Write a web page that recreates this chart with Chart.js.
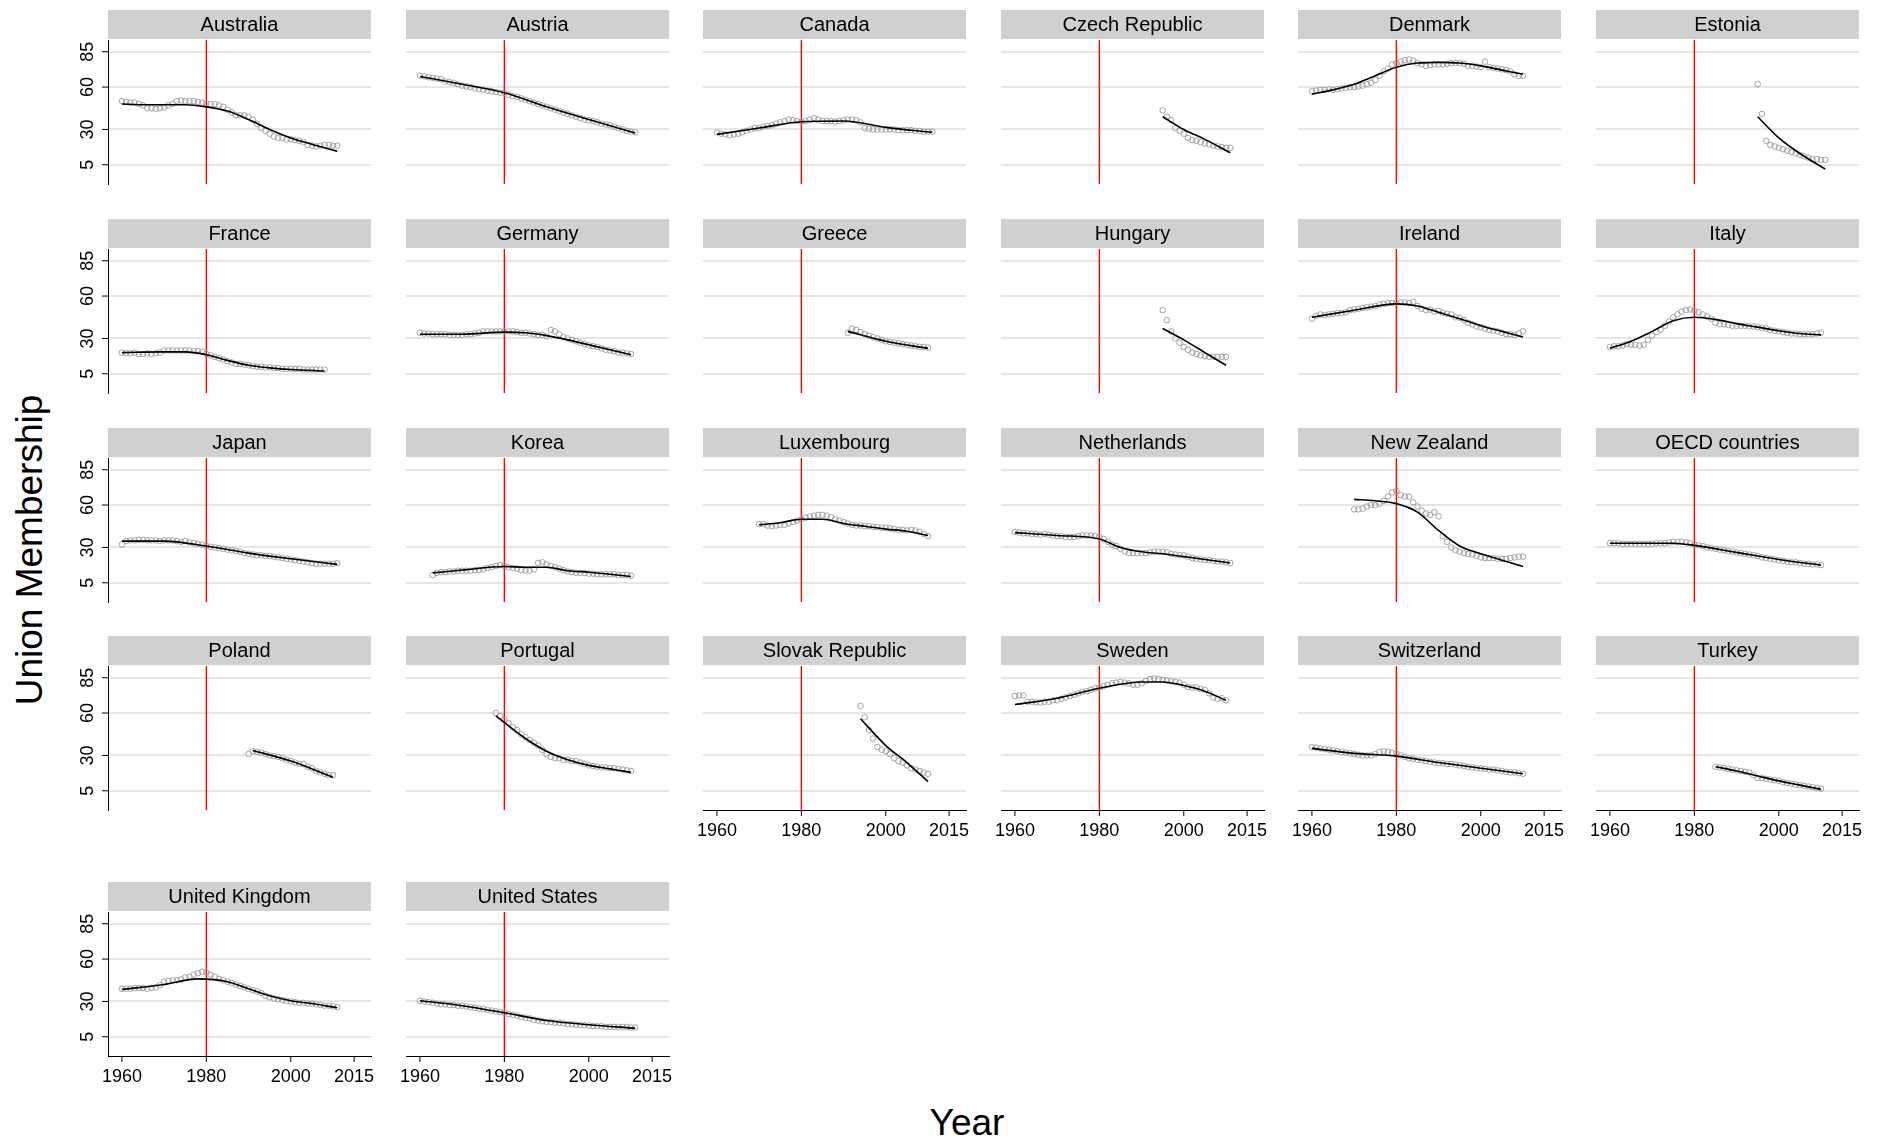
<!DOCTYPE html>
<html>
<head>
<meta charset="utf-8">
<script src="https://cdn.jsdelivr.net/npm/chart.js@4.4.1/dist/chart.umd.min.js"></script>
<style>
  body { margin: 0; background: #fff; width: 1885px; height: 1139px; position: relative; overflow: hidden; font-family: "Liberation Sans", Arial, sans-serif; }
  canvas { position: absolute; }
  .ytitle { position: absolute; left: 30px; top: 550px; font-size: 37px; transform: translate(-50%, -50%) rotate(-90deg); white-space: nowrap; }
  .xtitle { position: absolute; left: 967px; top: 1123px; font-size: 37px; transform: translate(-50%, -50%); }
</style>
</head>
<body>
<div class="ytitle">Union Membership</div>
<div class="xtitle">Year</div>
<script>
// tick labels
const yTicks = [5, 30, 60, 85];
const xTicks = [1960, 1980, 2000, 2015];
const markYear = 1980;

const countries = ['Australia', 'Austria', 'Canada', 'Czech Republic', 'Denmark', 'Estonia',
  'France', 'Germany', 'Greece', 'Hungary', 'Ireland', 'Italy',
  'Japan', 'Korea', 'Luxembourg', 'Netherlands', 'New Zealand', 'OECD countries',
  'Poland', 'Portugal', 'Slovak Republic', 'Sweden', 'Switzerland', 'Turkey',
  'United Kingdom', 'United States'];
const startYears = [1960, 1960, 1960, 1995, 1960, 1995,
  1960, 1960, 1991, 1995, 1960, 1960,
  1960, 1963, 1970, 1960, 1970, 1960,
  1990, 1978, 1994, 1960, 1960, 1985,
  1960, 1960];

// observed values, one per year from the start year
const australia = [50,49.5,49,49,48,47,45,45,44.5,45, 45.5,47,48,50,50.5,50,50,50,49.5,49, 48.5,48,48,47,46,44,42,40,40,40, 39,37,34,31,29,27,25,24,24,23, 23,22.5,22,21,19,18.5,18,18.5,19,19,18.5,18.5];
const austria = [68,67.5,67,66.5,66,65.5,64,63.5,63,62, 61,60.5,60,59,58.5,58,57.5,57,56.5,56, 56,54.5,53.5,53,52,51,50,49,48,47, 46,45,44,43,42,41,40,39,38,37, 36.5,36,35,34,33.5,33,32,31,30,29,28.5,28];
const canada = [28,27,26.5,26,26.5,27,28,29,30,31, 31,32,32.5,33,34,35,36,37,36.5,36, 35.5,36,37,38,37,36,36,36,35.5,36, 36.5,37,37,36.5,35,31,30.5,30,30,30, 30,30,30,29.5,29.5,29.5,29.5,29,29,28.5,28.5,28.5];
const czech = [43.5,39,36.5,31,29,27,24,22.5,22,21,20,19.5,18.5,18,17.5,17,17];
const denmark = [57,57.5,58,58,58.5,58,58.5,59,59.5,60, 60,60.5,61,62,63,65,68,71,73,76, 77,78,79,79.5,78.5,77,76,75,75.5,76, 76,76,76.5,77,77,77,76.5,75,75,74.5, 74,78,74,73.5,73,72.5,72,71,69,68,68];
const estonia = [62,41,22,19,18,17,16,15,14,13,12,11,10,9,9,8.5,8.5];
const france = [20,19.5,19.5,20,19,19,19.5,19,19.5,20, 21.5,21.5,21.5,21.5,21.5,21.5,21.5,21,21,20.5, 19,18,17,16,15,14,13,12,12,11.5, 11,10.5,10,10,9.5,9.5,9,9,8.5,8.5, 8.5,8.5,8.5,8,8,8,8,8,8];
const germany = [34,33.5,33.5,33,33,33,33,32.5,32.5,32.5, 32.5,33,33,33.5,34,35,35,35,35,35, 35,35,35,34.5,34,34,33.5,33,32.5,32.5, 31.5,36,35,33,31,30,29,28,27,26, 25,24.5,24,23,22,21.5,21,20,20,19.5,19];
const greece = [34,37,36,34.5,33,32,31,30,29,28,27.5,27,26.5,26,25.5,25,24.5,24,24,23.5];
const hungary = [50,43,35,30,27,24,22,20,19,18,17.5,17,17,17,17,17];
const ireland = [44,46,47,46.5,47,47.5,48,48,48.5,50, 50.5,51,51.5,52,52.5,53,54,54.5,55,55, 55.5,55.5,55.5,55,56,53,51,50,50.5,49, 49.5,48,47.5,47,45,44.5,43,41,40,38.5, 38,37,36,35.5,35,34,33,33,32.5,33.5,35];
const italy = [24,24.5,24.5,25,26,25.5,25.5,25,25.5,29, 32,34.5,36,39,42,45,47,49,50,50.5, 49.5,48.5,47,45.5,44,41,40,40,39.5,39, 39,39,39,38.5,38.5,38,37.5,37,36,35.5, 35,34.5,34,33.5,33.5,33,33,33,33,33.5,34];
const japan = [32,34.5,35,35,35.5,35.5,35,35,35,34.5, 35,35,35,34.5,34,34.5,33.5,33,32.5,32, 31,30.5,30,29.5,29,28.5,28,27.5,27,26, 25.5,25,24.5,24.5,24,24,23.5,23,22.5,22, 21.5,21,20.5,20,19.5,19,18.5,18.5,18.5,18.5,18.5,19];
const korea = [10.5,12,12.5,12.5,13,13,13.5, 13.5,13.5,13.5,14,14,14.5,15.5,16,17,17.5, 17,16,15.5,15,14,13.5,13.5,14.5,19,19.5, 18,17,16,15,14,13,12.5,12,12,12, 11.5,11.5,11,11,11,11,11,10.5,10.5,10.5,10];
const luxembourg = [46.5,46.5,45.5,45,45.5,46,46,47,48,49, 50,51,52,52.5,53,53,52.5,51.5,50,49, 48,47,46,45.5,45.5,45,45,44.5,44.5,44, 44,43.5,43,42.5,42.5,42,42.5,42,41,39.5,38];
const netherlands = [41,40.5,40,40,39.5,39.5,39,39.5,39,38.5, 38,38,37.5,37.5,37.5,38,38.5,38.5,38.5,38, 37.5,36,34,32,31,29,27,26,26,26, 26,26,26.5,27,27,27,26.5,25.5,25,24.5, 24.5,23.5,22.5,22,21.5,21,21,20.5,20,20,19.5,19];
const newZealand = [57,57,57.5,59,60,60,61,63,66,69, 70,67,66,66,62,59,56,54,53,55, 52,38,34,30,28,27,26,25.5,25,24, 23,22.5,22.5,22.5,22,22,22,22.5,23,23.5,23.5];
const oecd = [33,33,33,32.5,32.5,32.5,32.5,32.5,32.5,32.5, 32.5,33,33,33,33.5,34,34,34,33.5,33, 32,31.5,31,30,29.5,29,28.5,28,27.5,27, 26.5,26,25.5,25,24.5,24,23,22.5,22,21.5, 21,20.5,20,19.5,19.5,19,18.5,18.5,18,18,17.5];
const poland = [31,33,32.5,32,31,30,29.5,29,28,27,26,25,24,24,22,21,19,18,17,16,16];
const portugal = [60,58, 55,53,50,48,45,43,41,39,37,34, 31,29,28,28,27,27,26,26,25,24, 23,22.5,22,21.5,21.5,21,21,20.5,20,19.5,19];
const slovak = [65,57,48,42,36,34,33,31,28,26,25,23,21,20,19,18,17];
const sweden = [72,72.5,72.5,68,68,67.5,67.5,68,68,69, 69,70,71,72,73,74,75,75.5,76.5,77.5, 78,79,80,81,81.5,82,81.5,81,80,80, 81,82.5,84,84.5,84,83.5,83,82.5,82,81.5, 80,78.5,78,78,77,76.5,74,71,70,70.5,69];
const switzerland = [36,35.5,35,34.5,34,33.5,33,32.5,32,31.5, 31,30.5,30,30,30,31,32.5,33,32.5,32, 31.5,30,29,28,27.5,27,26.5,26,25.5,25, 24.5,24.5,24,24,23.5,23,22.5,22,21.5,21, 21,20.5,20,20,19.5,19,18.5,18,18,17.5,17];
const turkey = [22,21.5,21,20.5,20,19.5,19,18.5,18,16,14,14,13.5,13,12.5,12,11,10.5,10,9.5,9,8.5,8,7.5,7,6.5];
const uk = [39,39,39,39.5,39.5,39.5,39,39.5,40,41.5, 44,44.5,45,45,45.5,47,47.5,49,50,51, 50.5,49,47.5,46,45,44,43,42,41,40, 39,38,37,36,34,33,32,31.5,31,30.5, 30,29.5,29,29,28.5,28.5,28,27.5,27,27,26.5,26];
const us = [30.5,30,29.5,29,28.5,28,28,27.5,27.5,27, 27,26.5,26,25.5,25,24.5,24,23.5,23,22.5, 22,21,20.5,20,19,18.5,18,17,16.5,16, 15.5,15.5,15,15,14.5,14,14,13.5,13.5,13, 13,12.5,12.5,12.5,12,12,12,12,12,12,11.5,11.5];

// smoothed fit, [year, value] knots
const australiaFit = [[1960,48],[1965,47.5],[1970,47.5],[1975,47.5],[1980,46],[1985,43],[1990,37],[1995,30],[2000,24],[2005,19.5],[2011,14.5]];
const austriaFit = [[1960,67.5],[1970,62],[1980,56],[1990,46],[2000,37],[2011,27.5]];
const canadaFit = [[1960,26.5],[1970,31],[1980,35.5],[1990,36],[2000,31.5],[2011,28]];
const czechFit = [[1995,39],[2000,30],[2005,23],[2011,13.5]];
const denmarkFit = [[1960,55],[1965,58],[1970,62],[1975,68],[1980,74],[1985,77],[1990,77.5],[1995,77],[2000,75],[2005,72],[2010,69]];
const estoniaFit = [[1995,39],[2000,24],[2005,13],[2011,2]];
const franceFit = [[1960,20],[1970,20.5],[1975,20.5],[1980,18.5],[1985,14.5],[1990,11],[1995,9.2],[2000,8],[2008,7]];
const germanyFit = [[1960,33],[1970,33],[1980,34.5],[1985,34],[1990,32],[1995,29],[2000,25.5],[2005,22],[2010,18.5]];
const greeceFit = [[1991,35],[2000,28],[2010,23]];
const hungaryFit = [[1995,37],[2000,29],[2005,20],[2010,11]];
const irelandFit = [[1960,45],[1970,50],[1980,54.5],[1985,53],[1990,48.5],[1995,44],[2000,39],[2005,35],[2010,31]];
const italyFit = [[1960,23],[1965,28],[1970,35],[1975,42.5],[1980,45],[1985,43.5],[1990,40.5],[1995,38],[2000,35.5],[2005,33.5],[2010,32.5]];
const japanFit = [[1960,34.5],[1970,34.5],[1980,31],[1990,26],[2000,22],[2011,18]];
const koreaFit = [[1963,12],[1970,14],[1980,16.5],[1985,16],[1990,16],[1995,13.5],[2000,12.5],[2005,11],[2010,9.5]];
const luxembourgFit = [[1970,46],[1975,47.5],[1980,50],[1985,50],[1990,47],[1995,45],[2000,43],[2005,41.5],[2010,38.5]];
const netherlandsFit = [[1960,40.5],[1970,38.5],[1980,36],[1985,30],[1990,27],[1995,25.5],[2000,23.5],[2005,21.5],[2011,19]];
const newZealandFit = [[1970,64],[1975,63],[1980,61],[1985,55],[1990,42],[1995,31],[2000,25.5],[2005,21],[2010,16.5]];
const oecdFit = [[1960,33],[1970,33],[1975,33],[1980,31.5],[1990,26.5],[2000,21.5],[2010,17.5]];
const polandFit = [[1991,33.5],[2000,26],[2010,14.5]];
const portugalFit = [[1978,58],[1985,42],[1990,33],[1995,27],[2000,23],[2005,20.5],[2010,18]];
const slovakFit = [[1994,56],[2000,37],[2005,25],[2010,11.5]];
const swedenFit = [[1960,66],[1970,70.5],[1980,77.5],[1990,82],[1995,82],[2000,79.5],[2005,75.5],[2010,69]];
const switzerlandFit = [[1960,35],[1970,31.5],[1980,29.5],[1990,25],[2000,21],[2010,17]];
const turkeyFit = [[1985,22],[1990,19],[1995,15.5],[2000,12],[2005,9],[2010,6]];
const ukFit = [[1960,38.5],[1970,42],[1978,46],[1985,44],[1990,39],[1995,34],[2000,30.5],[2005,28.5],[2011,25.5]];
const usFit = [[1960,30.5],[1970,27],[1980,22],[1990,16.5],[2000,13.5],[2011,11]];

const observed = [australia, austria, canada, czech, denmark, estonia, france, germany, greece, hungary, ireland, italy,
  japan, korea, luxembourg, netherlands, newZealand, oecd, poland, portugal, slovak, sweden, switzerland, turkey, uk, us];
const fits = [australiaFit, austriaFit, canadaFit, czechFit, denmarkFit, estoniaFit, franceFit, germanyFit, greeceFit, hungaryFit, irelandFit, italyFit,
  japanFit, koreaFit, luxembourgFit, netherlandsFit, newZealandFit, oecdFit, polandFit, portugalFit, slovakFit, swedenFit, switzerlandFit, turkeyFit, ukFit, usFit];

// layout
const Y_MIN = -8.6, Y_MAX = 93.3, X_MIN = 1956.7, X_MAX = 2019;
const colLeft = c => 108 + c * 297.6;
const rowTop = [10, 219, 427.5, 636, 882];
const PW = 263, PH = 144, HEAD = 30, PADL = 50, PADR = 24, PADB = 50;
const withXLabels = ['Slovak Republic', 'Sweden', 'Switzerland', 'Turkey', 'United Kingdom', 'United States'];

const panelDecor = {
  id: 'panelDecor',
  beforeDraw(chart, args, opts) {
    const ctx = chart.ctx, a = chart.chartArea;
    ctx.save();
    ctx.fillStyle = '#d0d0d0';
    ctx.fillRect(a.left, a.top - HEAD, a.right - a.left, HEAD - 1);
    ctx.fillStyle = '#000';
    ctx.font = '20px "Liberation Sans", Arial, sans-serif';
    ctx.textAlign = 'center';
    ctx.textBaseline = 'middle';
    ctx.fillText(opts.title, (a.left + a.right) / 2, a.top - HEAD / 2);
    ctx.restore();
  },
  afterDraw(chart, args, opts) {
    const ctx = chart.ctx, a = chart.chartArea;
    ctx.save();
    ctx.fillStyle = '#000';
    ctx.strokeStyle = '#000';
    ctx.lineWidth = 1;
    ctx.font = '18px "Liberation Sans", Arial, sans-serif';
    if (opts.yLabels) {
      yTicks.forEach(v => {
        const y = chart.scales.y.getPixelForValue(v);
        ctx.beginPath(); ctx.moveTo(a.left - 6, y); ctx.lineTo(a.left, y); ctx.stroke();
        ctx.save();
        ctx.translate(a.left - 20, y);
        ctx.rotate(-Math.PI / 2);
        ctx.textAlign = 'center'; ctx.textBaseline = 'middle';
        ctx.fillText(String(v), 0, 0);
        ctx.restore();
      });
    }
    if (opts.xLabels) {
      ctx.textAlign = 'center'; ctx.textBaseline = 'middle';
      xTicks.forEach(v => {
        const x = chart.scales.x.getPixelForValue(v);
        ctx.beginPath(); ctx.moveTo(x, a.bottom); ctx.lineTo(x, a.bottom + 6); ctx.stroke();
        ctx.fillText(String(v), x, a.bottom + 21);
      });
    }
    ctx.restore();
  }
};

countries.forEach((name, i) => {
  const r = Math.floor(i / 6), c = i % 6;
  const canvas = document.createElement('canvas');
  const w = PW + PADL + PADR, h = PH + HEAD + PADB;
  canvas.width = w; canvas.height = h;
  canvas.style.width = w + 'px'; canvas.style.height = h + 'px';
  canvas.style.left = (colLeft(c) - PADL) + 'px';
  canvas.style.top = (rowTop[r]) + 'px';
  document.body.appendChild(canvas);

  const pts = observed[i].map((v, k) => ({ x: startYears[i] + k, y: v }));
  const fitPts = fits[i].map(p => ({ x: p[0], y: p[1] }));
  const showX = withXLabels.includes(name);
  const showY = c === 0;

  new Chart(canvas, {
    type: 'scatter',
    data: {
      datasets: [
        { type: 'line', data: fitPts, borderColor: '#000', borderWidth: 1.6, pointRadius: 0, fill: false, cubicInterpolationMode: 'monotone' },
        { data: pts, pointRadius: 2.8, pointBorderWidth: 0.9, borderColor: '#9a9a9a', backgroundColor: 'rgba(0,0,0,0)' },
        { type: 'line', data: [{ x: markYear, y: Y_MIN }, { x: markYear, y: Y_MAX }], borderColor: '#ff0000', borderWidth: 1.4, pointRadius: 0 }
      ]
    },
    options: {
      responsive: false,
      animation: false,
      devicePixelRatio: 1,
      layout: { padding: { left: PADL, right: PADR, top: HEAD, bottom: PADB } },
      plugins: {
        legend: { display: false },
        tooltip: { enabled: false },
        panelDecor: { title: name, xLabels: showX, yLabels: showY }
      },
      scales: {
        x: {
          type: 'linear', min: X_MIN, max: X_MAX,
          grid: { display: false },
          border: { display: showX, color: '#000', width: 1 },
          ticks: { display: false },
          afterFit: s => { s.height = 0; }
        },
        y: {
          min: Y_MIN, max: Y_MAX,
          afterBuildTicks: s => { s.ticks = yTicks.map(v => ({ value: v })); },
          grid: { color: '#e6e6e6', lineWidth: 2, drawTicks: false },
          border: { display: showY, color: '#000', width: 1 },
          ticks: { display: false },
          afterFit: s => { s.width = 0; }
        }
      }
    },
    plugins: [panelDecor]
  });
});
</script>
</body>
</html>
